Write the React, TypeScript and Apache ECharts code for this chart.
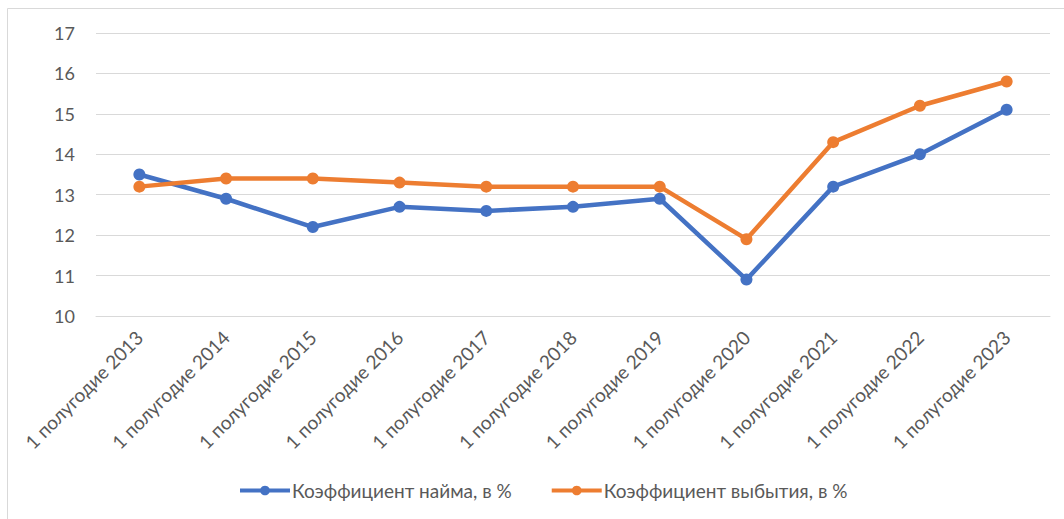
import React, { useEffect, useRef } from "react";
import * as echarts from "echarts";

const categories = [
  "1 полугодие 2013",
  "1 полугодие 2014",
  "1 полугодие 2015",
  "1 полугодие 2016",
  "1 полугодие 2017",
  "1 полугодие 2018",
  "1 полугодие 2019",
  "1 полугодие 2020",
  "1 полугодие 2021",
  "1 полугодие 2022",
  "1 полугодие 2023",
];
const hireRate = [13.5, 12.9, 12.2, 12.7, 12.6, 12.7, 12.9, 10.9, 13.2, 14.0, 15.1];
const leaveRate = [13.2, 13.4, 13.4, 13.3, 13.2, 13.2, 13.2, 11.9, 14.3, 15.2, 15.8];
const seriesNames = ["Коэффициент найма, в %", "Коэффициент выбытия, в %"];

const FONT = "Lato, 'Open Sans', sans-serif";

export default function App() {
  const ref = useRef<HTMLDivElement>(null);
  useEffect(() => {
    if (!ref.current) return;
    const chart = echarts.init(ref.current, undefined, { renderer: "svg" });
    chart.setOption({
      animation: false,
      backgroundColor: "#ffffff",
      textStyle: { fontFamily: FONT },
      graphic: [
        {
          type: "rect",
          shape: { x: 7.5, y: 8.5, width: 1080, height: 530 },
          style: { fill: "none", stroke: "#d9d9d9", lineWidth: 1 },
          silent: true,
        },
      ],
      grid: { left: 96, right: 14, top: 33, bottom: 203 },
      legend: {
        bottom: 14,
        left: 233,
        itemWidth: 50,
        itemHeight: 12,
        itemGap: 38,
        lineStyle: { width: 4 },
        textStyle: { fontSize: 19, color: "#595959", fontFamily: FONT, padding: [0, 0, 0, -3] },
        data: seriesNames,
      },
      xAxis: {
        type: "category",
        data: categories,
        boundaryGap: true,
        axisLine: { show: true, lineStyle: { color: "#d9d9d9", width: 1 } },
        axisTick: { show: false },
        axisLabel: {
          rotate: 45,
          fontSize: 19,
          color: "#595959",
          margin: 18,
          interval: 0,
          fontFamily: FONT,
        },
      },
      yAxis: {
        type: "value",
        min: 10,
        max: 17,
        interval: 1,
        axisLine: { show: false },
        axisTick: { show: false },
        splitLine: { lineStyle: { color: "#d9d9d9", width: 1 } },
        axisLabel: { fontSize: 18, color: "#595959", margin: 21, fontFamily: FONT },
      },
      series: [
        {
          name: seriesNames[0],
          type: "line",
          data: hireRate,
          symbol: "circle",
          symbolSize: 12,
          lineStyle: { width: 4.5, color: "#4472C4" },
          itemStyle: { color: "#4472C4" },
        },
        {
          name: seriesNames[1],
          type: "line",
          data: leaveRate,
          symbol: "circle",
          symbolSize: 12,
          lineStyle: { width: 4.5, color: "#ED7D31" },
          itemStyle: { color: "#ED7D31" },
        },
      ],
    });
    return () => chart.dispose();
  }, []);
  return (
    <div
      ref={ref}
      style={{ position: "absolute", left: 0, top: 0, width: 1064, height: 519 }}
    />
  );
}
